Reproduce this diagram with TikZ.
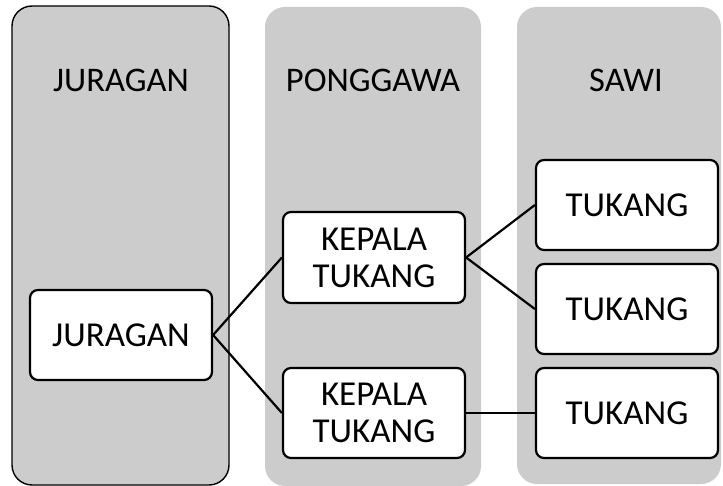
\documentclass[tikz,border=0pt]{standalone}
\usepackage{fontspec}
\setmainfont{Carlito}
\begin{document}
\begin{tikzpicture}[x=1pt,y=-1pt,
  column/.style={fill=black!20,rounded corners=20pt},
  header/.style={font=\fontsize{34.5}{38}\selectfont,inner sep=0pt},
  box/.style={draw=black,line width=2.2pt,fill=white,rounded corners=8pt,
    minimum width=182pt,minimum height=90pt,inner sep=0pt,align=center,
    font=\fontsize{35}{37}\selectfont},
  link/.style={line width=2.2pt}]
\useasboundingbox (0,0) rectangle (723,486);
\fill[white] (0,0) rectangle (723,486);
\draw[column,draw=black,line width=1.4pt] (12,6) rectangle (229,485);
\fill[column] (265,7) rectangle (481,486);
\fill[column] (517,7) rectangle (721,484);
\node[header] (h1) at (121,80) {JURAGAN};
\node[header] (h2) at (373,80) {PONGGAWA};
\node[header] (h3) at (626,80) {SAWI};
\node[box] (j) at (121,335) {JURAGAN};
\node[box,minimum height=91pt] (k1) at (374,257.5) {KEPALA\\TUKANG};
\node[box] (k2) at (374,413) {KEPALA\\TUKANG};
\node[box] (t1) at (627,205) {TUKANG};
\node[box] (t2) at (627,309) {TUKANG};
\node[box] (t3) at (627,413) {TUKANG};
\draw[link] (j.east) -- (k1.west);
\draw[link] (j.east) -- (k2.west);
\draw[link] (k1.east) -- (t1.west);
\draw[link] (k1.east) -- (t2.west);
\draw[link] (k2.east) -- (t3.west);
\end{tikzpicture}
\end{document}
